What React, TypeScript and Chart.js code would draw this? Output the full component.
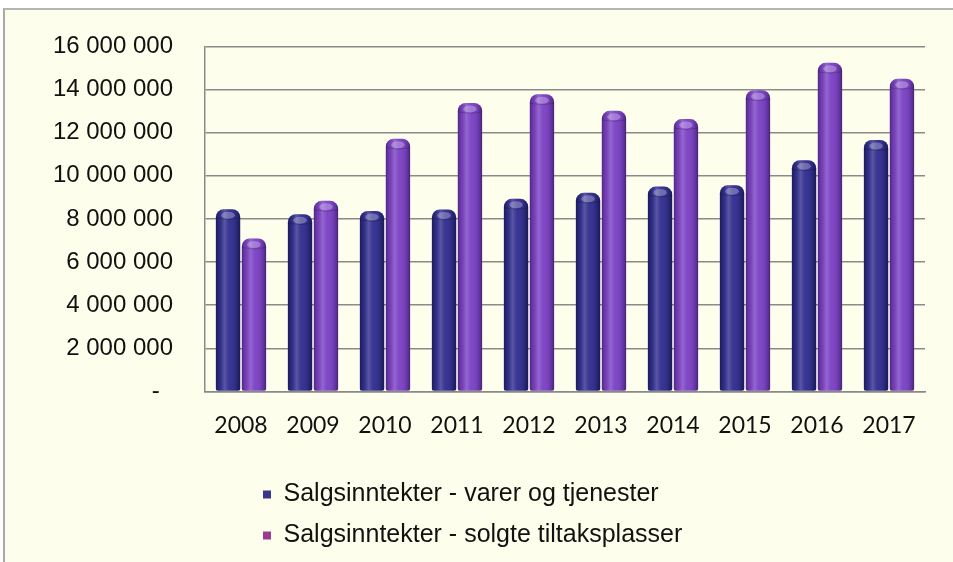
import React, { useEffect, useRef } from "react";
import { Chart, registerables } from "chart.js";

Chart.register(...registerables);

// ---- Data ----
const years = ["2008", "2009", "2010", "2011", "2012", "2013", "2014", "2015", "2016", "2017"];
const varerOgTjenester = [8450000, 8220000, 8370000, 8440000, 8930000, 9210000, 9500000, 9560000, 10720000, 11660000];
const solgteTiltaksplasser = [7090000, 8840000, 11720000, 13380000, 13780000, 13010000, 12630000, 13970000, 15240000, 14500000];
const yTickValues = [0, 2000000, 4000000, 6000000, 8000000, 10000000, 12000000, 14000000, 16000000];
const seriesNames = ["Salgsinntekter - varer og tjenester", "Salgsinntekter - solgte tiltaksplasser"];
const barColors = ["#2f2c8e", "#7a40c4"];
const legendColors = ["#38378c", "#9c3a90"];

const W = 953;
const H = 562;
const LEG_LEFT = 247;
const LEG_TOP = 466;

function fmt(v: number): string {
  if (v === 0) return "-  ";
  const s = Math.round(v).toString();
  return s.replace(/\B(?=(\d{3})+(?!\d))/g, " ");
}

const cylinderPlugin = {
  id: "cylinder",
  afterDatasetsDraw(chart: any) {
    const ctx = chart.ctx as CanvasRenderingContext2D;
    chart.data.datasets.forEach((_ds: any, di: number) => {
      const meta = chart.getDatasetMeta(di);
      meta.data.forEach((el: any) => {
        const { x, y, base, width } = el.getProps(["x", "y", "base", "width"], true);
        const l = x - width / 2;
        const rad = 8;
        ctx.save();
        ctx.beginPath();
        (ctx as any).roundRect(l, y, width, base - y, [rad, rad, 2, 2]);
        ctx.clip();
        const g = ctx.createLinearGradient(l, 0, l + width, 0);
        g.addColorStop(0, "rgba(0,0,0,0.38)");
        g.addColorStop(0.12, "rgba(0,0,0,0.10)");
        g.addColorStop(0.35, "rgba(255,255,255,0.20)");
        g.addColorStop(0.55, "rgba(255,255,255,0.04)");
        g.addColorStop(0.85, "rgba(0,0,0,0.12)");
        g.addColorStop(1, "rgba(0,0,0,0.42)");
        ctx.fillStyle = g;
        ctx.fillRect(l, y, width, base - y);
        ctx.beginPath();
        ctx.ellipse(x, y + 6, width * 0.28, 3.5, 0, 0, Math.PI * 2);
        ctx.fillStyle = "rgba(255,255,255,0.28)";
        ctx.fill();
        ctx.beginPath();
        ctx.moveTo(l, y + rad + 1);
        ctx.quadraticCurveTo(x, y + rad + 4, l + width, y + rad + 1);
        ctx.strokeStyle = "rgba(0,0,0,0.18)";
        ctx.lineWidth = 1;
        ctx.stroke();
        ctx.restore();
      });
    });
  },
};

const legendShiftPlugin = {
  id: "legendShift",
  afterLayout(chart: any) {
    const lg = chart.legend;
    if (!lg) return;
    const dx = LEG_LEFT - lg.left;
    const dy = LEG_TOP - lg.top;
    lg.left += dx;
    lg.right += dx;
    lg.top += dy;
    lg.bottom += dy;
  },
};

export default function App() {
  const ref = useRef<HTMLCanvasElement | null>(null);

  useEffect(() => {
    if (!ref.current) return;
    const chart = new Chart(ref.current, {
      type: "bar",
      data: {
        labels: years,
        datasets: [
          {
            label: seriesNames[0],
            data: varerOgTjenester,
            backgroundColor: barColors[0],
            borderWidth: 0,
            borderRadius: { topLeft: 8, topRight: 8, bottomLeft: 2, bottomRight: 2 },
            borderSkipped: false,
            categoryPercentage: 0.72,
            barPercentage: 0.94,
          },
          {
            label: seriesNames[1],
            data: solgteTiltaksplasser,
            backgroundColor: barColors[1],
            borderWidth: 0,
            borderRadius: { topLeft: 8, topRight: 8, bottomLeft: 2, bottomRight: 2 },
            borderSkipped: false,
            categoryPercentage: 0.72,
            barPercentage: 0.94,
          },
        ],
      },
      options: {
        responsive: false,
        maintainAspectRatio: false,
        animation: false,
        devicePixelRatio: 1,
        layout: { padding: { top: 43, right: 28, left: 0, bottom: 11 } },
        scales: {
          x: {
            grid: { display: false, drawTicks: false },
            border: { display: true, color: "#8a8a8a", width: 1.5 },
            ticks: {
              color: "#111",
              padding: 20,
              font: { family: "Lato", size: 23 },
            },
          },
          y: {
            min: 0,
            max: 16000000,
            afterBuildTicks: (s: any) => {
              s.ticks = yTickValues.map((v) => ({ value: v }));
            },
            afterFit: (s: any) => {
              s.width = 205;
            },
            grid: { color: "#8a8a8a", lineWidth: 1.5, drawTicks: false },
            border: { display: true, color: "#8a8a8a", width: 1.5 },
            ticks: {
              color: "#111",
              padding: 32,
              font: { family: "Liberation Sans", size: 24 },
              callback: (v: any) => fmt(Number(v)),
            },
          },
        },
        plugins: {
          tooltip: { enabled: false },
          legend: {
            display: true,
            position: "bottom",
            align: "start",
            fullSize: false,
            labels: {
              boxWidth: 8,
              boxHeight: 8,
              padding: 16,
              color: "#111",
              font: { family: "Liberation Sans", size: 25 },
              generateLabels: (c: any) => {
                const items = Chart.defaults.plugins.legend.labels.generateLabels(c);
                return items.map((it: any, i: number) => ({
                  ...it,
                  fillStyle: legendColors[i],
                  strokeStyle: legendColors[i],
                  lineWidth: 0,
                }));
              },
            },
          },
        },
      },
      plugins: [cylinderPlugin, legendShiftPlugin],
    });
    return () => chart.destroy();
  }, []);

  return (
    <div style={{ position: "fixed", left: 0, top: 0, width: W, height: H, overflow: "hidden", background: "#ffffff" }}>
      <div
        style={{
          position: "absolute",
          left: 3,
          top: 8,
          width: W + 20,
          height: H + 20,
          borderLeft: "2px solid #a9a9a9",
          borderTop: "2px solid #b4b4b4",
          background: "#fefeec",
        }}
      />
      <canvas ref={ref} width={W} height={H} style={{ position: "absolute", left: 0, top: 0, width: W, height: H }} />
    </div>
  );
}
